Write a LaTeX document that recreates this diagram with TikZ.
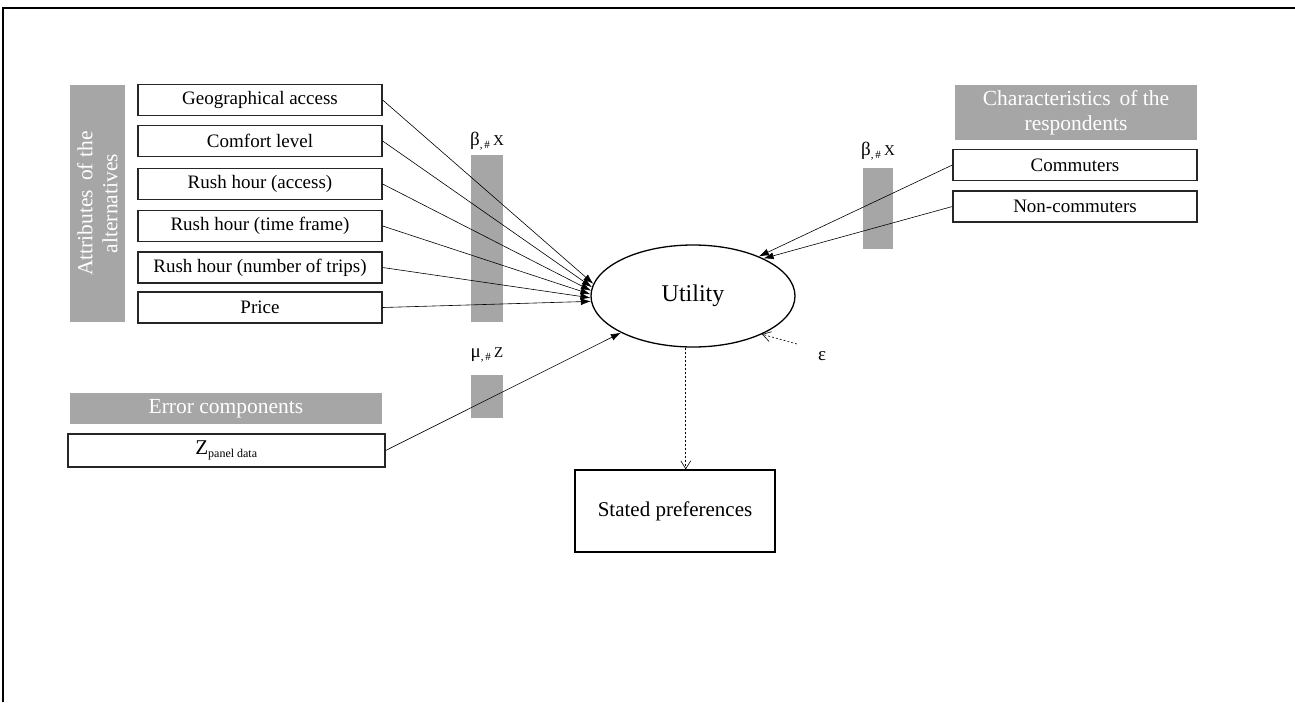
\documentclass[tikz,border=0pt]{standalone}
\usepackage{fontspec}
\setmainfont{Liberation Serif}
\usetikzlibrary{shapes.geometric,arrows.meta}
\definecolor{hdrgray}{HTML}{A6A6A6}
\tikzset{
  attrbox/.style={draw=black!85,line width=1.3pt,rectangle,minimum width=244pt,minimum height=31pt,inner sep=0pt,font=\fontsize{19}{21}\selectfont},
  hdr/.style={fill=hdrgray,rectangle,inner sep=0pt,text=white,align=center,font=\fontsize{21.5}{25}\selectfont},
  bar/.style={fill=hdrgray,rectangle,inner sep=0pt},
  conn/.style={line width=0.6pt,-{Latex[length=10pt,width=7pt]}},
  dconn/.style={line width=0.6pt,dash pattern=on 2pt off 2pt,-{Straight Barb[length=8pt,width=10pt,line width=0.6pt]}},
  lbl/.style={inner sep=0pt,font=\fontsize{19}{21}\selectfont}
}
\begin{document}
\begin{tikzpicture}[x=1pt,y=-1pt]
\useasboundingbox (0,0) rectangle (1295,702);
\draw[line width=1.5pt] (3,702) -- (3,8) -- (1295,8);
% left header
\node[hdr,minimum width=237pt,minimum height=55pt,rotate=90] (hattr) at (97.5,203.5) {Attributes\, of the\\alternatives};
\node[attrbox] (a1) at (260,100) {Geographical access};
\node[attrbox] (a2) at (260,141) {Comfort level};
\node[attrbox] (a3) at (260,184) {Rush hour (access)};
\node[attrbox] (a4) at (260,226) {Rush hour (time frame)};
\node[attrbox] (a5) at (260,267.5) {Rush hour (number of trips)};
\node[attrbox] (a6) at (260,307.5) {Price};
% beta bars
\node[bar,minimum width=32pt,minimum height=167pt] (b1) at (487,238.5) {};
\node[lbl] (b1l) at (487,141) {β\raisebox{-3pt}{\fontsize{11}{12}\selectfont,\,\#}\,{\fontsize{15}{16}\selectfont X}};
\node[bar,minimum width=30pt,minimum height=81pt] (b2) at (878,208.5) {};
\node[lbl] (b2l) at (878,151) {β\raisebox{-3pt}{\fontsize{11}{12}\selectfont,\,\#}\,{\fontsize{15}{16}\selectfont X}};
\node[bar,minimum width=32pt,minimum height=43pt] (m1) at (487,396.5) {};
\node[lbl] (m1l) at (487,355) {μ\raisebox{-3pt}{\fontsize{11}{12}\selectfont,\,\#}\,{\fontsize{15}{16}\selectfont Z}};
% utility
\node[draw,line width=1.3pt,ellipse,minimum width=204pt,minimum height=102pt,inner sep=0pt,font=\fontsize{24}{28}\selectfont] (util) at (693,296) {Utility};
% right side
\node[hdr,minimum width=242pt,minimum height=55pt] (hchar) at (1076,112.5) {Characteristics\, of the\\respondents};
\node[attrbox] (c1) at (1075,165) {Commuters};
\node[attrbox] (c2) at (1075,206.5) {Non-commuters};
% error components
\node[hdr,minimum width=312pt,minimum height=31pt] (herr) at (226,408.5) {Error components};
\node[attrbox,minimum width=317pt,minimum height=33pt,font=\fontsize{21}{23}\selectfont] (z) at (226.5,450.5) {Z\textsubscript{\fontsize{12}{13}\selectfont panel data}};
% epsilon
\node[lbl] (eps) at (822,356) {ε};
% stated preferences
\node[draw,line width=1.3pt,rectangle,minimum width=200pt,minimum height=82pt,inner sep=0pt,font=\fontsize{21}{24}\selectfont] (sp) at (675,511) {Stated preferences};
% connectors
\draw[conn] (a1.east) -- (util.173);
\draw[conn] (a2.east) -- (util.175);
\draw[conn] (a3.east) -- (util.177);
\draw[conn] (a4.east) -- (util.179);
\draw[conn] (a5.east) -- (util.181);
\draw[conn] (a6.east) -- (util.183);
\draw[conn] (c1.west) -- (util.31);
\draw[conn] (c2.west) -- (util.28);
\draw[conn] (z.east) -- (util.207);
\draw[dconn] ([shift={(-25pt,12pt)}]eps.center) -- (util.331);
\draw[dconn] (util.262) -- (util.262 |- sp.north);
\end{tikzpicture}
\end{document}
